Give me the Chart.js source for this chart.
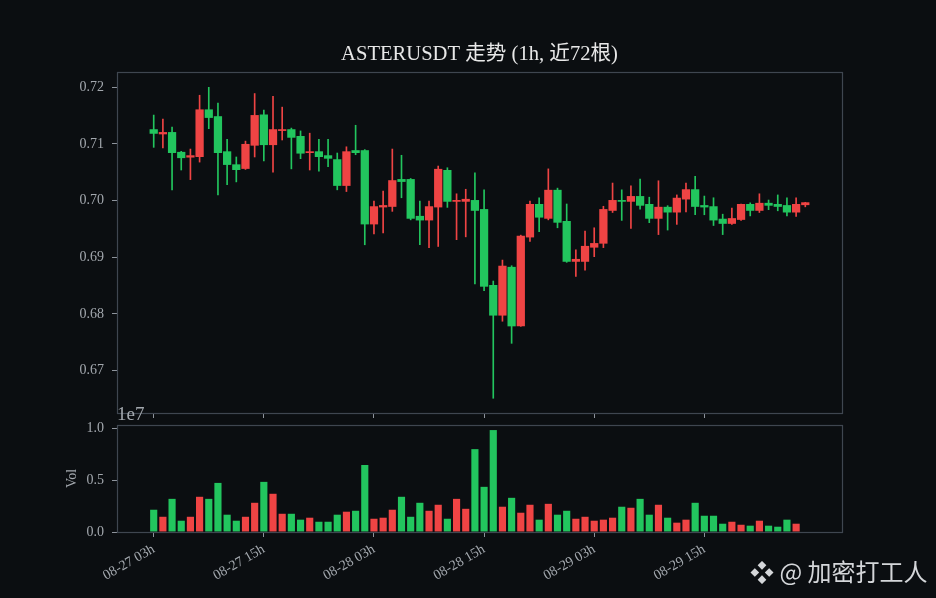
<!DOCTYPE html>
<html><head><meta charset="utf-8">
<script src="https://cdn.jsdelivr.net/npm/chart.js@4.4.1/dist/chart.umd.min.js"></script>
<style>
html,body{margin:0;padding:0;background:#0b0e11;width:936px;height:598px;overflow:hidden}
#wrap{position:relative;width:936px;height:598px;background:#0b0e11}
canvas{position:absolute;left:0;top:0}
#wm{position:absolute;left:750px;top:554px;color:#d4d6d9;font:24px 'Noto Sans CJK SC',sans-serif;white-space:nowrap;line-height:34px}
</style></head><body>
<div id="wrap">
<canvas id="price" width="936" height="440"></canvas>
<canvas id="vol" width="936" height="598"></canvas>
<div id="wm">❖ @ 加密打工人</div>
</div>
<script>
// ---- data (1h candles, 08-27 03h .. 08-30 02h) ----
const openP  = [0.7126,0.7117,0.7121,0.7086,0.7076,0.7077,0.7161,0.7149,0.7087,0.7064,0.7056,0.7097,0.7152,0.7098,0.7123,0.7126,0.7114,0.7084,0.7087,0.7080,0.7073,0.7026,0.7089,0.7089,0.6958,0.6988,0.6989,0.7038,0.7038,0.6973,0.6965,0.6988,0.7054,0.6998,0.6998,0.7001,0.6985,0.6851,0.6797,0.6883,0.6778,0.6935,0.6994,0.6968,0.7019,0.6964,0.6892,0.6892,0.6917,0.6924,0.6982,0.7001,0.6998,0.7008,0.6994,0.6968,0.6989,0.6979,0.7002,0.7020,0.6992,0.6990,0.6968,0.6959,0.6966,0.6994,0.6982,0.6996,0.6994,0.6992,0.6979,0.6992];
const highP  = [0.7151,0.7144,0.7130,0.7087,0.7091,0.7186,0.7200,0.7172,0.7108,0.7077,0.7105,0.7189,0.7160,0.7184,0.7165,0.7128,0.7123,0.7119,0.7108,0.7108,0.7084,0.7095,0.7133,0.7090,0.6999,0.7017,0.7091,0.7080,0.7039,0.6999,0.6999,0.7061,0.7058,0.7012,0.7020,0.7049,0.7019,0.6858,0.6895,0.6885,0.6939,0.6999,0.7005,0.7056,0.7022,0.6994,0.6913,0.6946,0.6952,0.6990,0.7031,0.7019,0.7026,0.7038,0.7006,0.7035,0.6991,0.7010,0.7031,0.7043,0.7008,0.7005,0.6976,0.6987,0.6994,0.6996,0.7012,0.7001,0.7010,0.7005,0.7005,0.6997];
const lowP   = [0.7094,0.7093,0.7019,0.7054,0.7037,0.7068,0.7127,0.7010,0.7028,0.7033,0.7055,0.7077,0.7070,0.7050,0.7107,0.7056,0.7074,0.7054,0.7052,0.7060,0.7019,0.7016,0.7081,0.6922,0.6941,0.6943,0.6981,0.7005,0.6966,0.6922,0.6917,0.6919,0.6988,0.6931,0.6936,0.6853,0.6841,0.6651,0.6787,0.6748,0.6778,0.6928,0.6945,0.6966,0.6952,0.6891,0.6866,0.6877,0.6901,0.6917,0.6979,0.6965,0.6951,0.6985,0.6961,0.6940,0.6948,0.6958,0.6980,0.6975,0.6975,0.6956,0.6940,0.6958,0.6965,0.6973,0.6979,0.6984,0.6982,0.6973,0.6972,0.6989];
const closeP = [0.7118,0.7121,0.7084,0.7075,0.7080,0.7161,0.7146,0.7084,0.7063,0.7054,0.7100,0.7151,0.7098,0.7126,0.7126,0.7111,0.7083,0.7087,0.7077,0.7074,0.7026,0.7087,0.7084,0.6958,0.6990,0.6992,0.7036,0.7033,0.6968,0.6965,0.6990,0.7056,0.6998,0.7001,0.7003,0.6982,0.6848,0.6797,0.6885,0.6778,0.6938,0.6994,0.6970,0.7019,0.6961,0.6892,0.6897,0.6920,0.6925,0.6985,0.7001,0.6998,0.7008,0.6991,0.6968,0.6989,0.6979,0.7005,0.7020,0.6989,0.6988,0.6965,0.6959,0.6969,0.6994,0.6982,0.6996,0.6991,0.6989,0.6979,0.6994,0.6997];
const volume = [2150000,1470000,3200000,1090000,1470000,3400000,3200000,4740000,1670000,1090000,1470000,2820000,4840000,3690000,1760000,1760000,1190000,1380000,990000,990000,1670000,1960000,2050000,6470000,1280000,1380000,2150000,3400000,1470000,2820000,2050000,2630000,1280000,3200000,2240000,8000000,4360000,9840000,2440000,3300000,1860000,2630000,1190000,2720000,1670000,2050000,1280000,1470000,1090000,1190000,1380000,2440000,2340000,3200000,1670000,2630000,1380000,900000,1190000,2820000,1570000,1570000,800000,990000,700000,610000,1090000,610000,510000,1190000,800000,0];
const tickPos    = [0,12,24,36,48,60];
const tickLabels = ['08-27 03h','08-27 15h','08-28 03h','08-28 15h','08-29 03h','08-29 15h'];
const priceTicks = [0.67,0.68,0.69,0.70,0.71,0.72];
const volTicks   = [0,5000000,10000000];
const volTickLabels = ['0.0','0.5','1.0'];

// ---- style ----
const UP = '#ef4444', DOWN = '#22c55e';
const SPINE = '#3f4650', TICK = '#8e949c', TEXT = '#a3a8ae';
const SERIF = "'Liberation Serif','Noto Sans CJK SC',serif";
const colors = closeP.map((c,i) => c >= openP[i] ? UP : DOWN);

const framePlugin = {
  id:'frame',
  afterDraw(chart){
    const {ctx, chartArea:a} = chart;
    ctx.save();
    ctx.strokeStyle = SPINE; ctx.lineWidth = 1.2;
    ctx.strokeRect(Math.round(a.left)+0.5, Math.round(a.top)+0.5, Math.round(a.right-a.left), Math.round(a.bottom-a.top));
    const extra = chart.options.plugins.frame && chart.options.plugins.frame.offsetText;
    if (extra) {
      ctx.fillStyle = TEXT;
      ctx.font = "19px " + SERIF;
      ctx.textAlign = 'left'; ctx.textBaseline = 'alphabetic';
      ctx.fillText(extra, a.left, a.top - 5);
    }
    ctx.restore();
  }
};

const gridOpts = {display:true, offset:false, drawOnChartArea:false, drawTicks:true, tickLength:5, color:TICK, lineWidth:1};

new Chart(document.getElementById('price'), {
  type:'bar',
  data:{datasets:[
    {label:'wick', data: lowP.map((l,i)=>({x:i, y:[l, highP[i]]})), backgroundColor: colors, barThickness:1, grouped:false, order:1},
    {label:'body', data: openP.map((o,i)=>({x:i, y:[o, closeP[i]]})), backgroundColor: colors, barPercentage:0.9, categoryPercentage:1, minBarLength:1.5, grouped:false, order:0}
  ]},
  options:{
    responsive:false, animation:false, devicePixelRatio:1,
    layout:{padding:{left:0,right:94,top:0,bottom:0}},
    plugins:{legend:{display:false}, tooltip:{enabled:false},
      title:{display:true, text:'ASTERUSDT 走势 (1h, 近72根)', fullSize:false, color:'#e8e8e8',
        font:{family:SERIF, size:20.6, weight:'normal', lineHeight:1.2}, padding:{top:42,bottom:5.3}}},
    scales:{
      x:{type:'linear', min:-4, max:75, offset:false,
        afterBuildTicks:s=>{s.ticks = tickPos.map(v=>({value:v}));},
        afterFit:s=>{s.height = 27;},
        ticks:{display:false}, grid:gridOpts, border:{display:false}},
      y:{type:'linear', min:0.6625, max:0.7227,
        afterBuildTicks:s=>{s.ticks = priceTicks.map(v=>({value:v}));},
        afterFit:s=>{s.width = 117;},
        ticks:{color:TEXT, padding:8, font:{family:SERIF, size:14}, callback:v=>v.toFixed(2)},
        grid:gridOpts, border:{display:false}}
    }
  },
  plugins:[framePlugin]
});

new Chart(document.getElementById('vol'), {
  type:'bar',
  data:{datasets:[
    {label:'Vol', data: volume.map((v,i)=>({x:i, y:v})), backgroundColor: colors, barPercentage:0.78, categoryPercentage:1, grouped:false}
  ]},
  options:{
    responsive:false, animation:false, devicePixelRatio:1,
    layout:{padding:{left:0,right:94,top:425,bottom:0}},
    plugins:{legend:{display:false}, tooltip:{enabled:false}, frame:{offsetText:'1e7'}},
    scales:{
      x:{type:'linear', min:-4, max:75, offset:false,
        afterBuildTicks:s=>{s.ticks = tickPos.map(v=>({value:v}));},
        afterFit:s=>{s.height = 66;},
        ticks:{color:TEXT, padding:4, minRotation:30, maxRotation:30, autoSkip:false, font:{family:SERIF, size:14},
          callback:v=>tickLabels[tickPos.indexOf(v)]},
        grid:gridOpts, border:{display:false}},
      y:{type:'linear', min:0, max:10330000,
        afterBuildTicks:s=>{s.ticks = volTicks.map(v=>({value:v}));},
        afterFit:s=>{s.width = 117;},
        title:{display:true, text:'Vol', color:TEXT, font:{family:SERIF, size:14, lineHeight:1.2}, padding:{top:64,bottom:0}},
        ticks:{color:TEXT, padding:8, font:{family:SERIF, size:14}, callback:v=>volTickLabels[volTicks.indexOf(v)]},
        grid:gridOpts, border:{display:false}}
    }
  },
  plugins:[framePlugin]
});
</script>
</body></html>
